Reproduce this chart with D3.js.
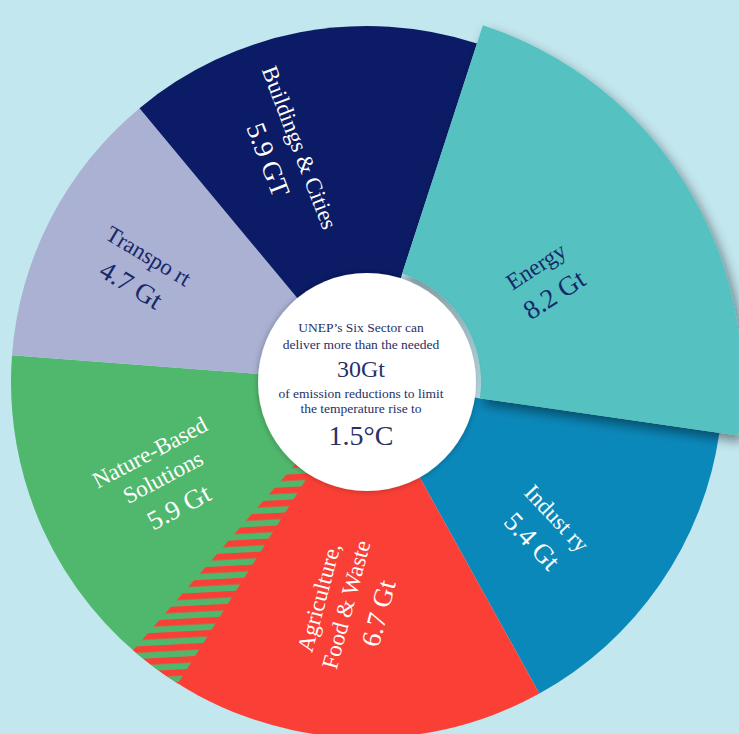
<!DOCTYPE html>
<html>
<head>
<meta charset="utf-8">
<script src="https://cdn.jsdelivr.net/npm/d3@7"></script>
<style>
  html, body { margin: 0; padding: 0; background: #c3e7ef; }
  svg { display: block; }
</style>
</head>
<body>
<svg id="chart" width="739" height="734"></svg>
<script>
    // sectors, clockwise from the exploded Energy wedge
    var sectors = ["Energy", "Industry", "Agriculture, Food & Waste", "Nature-Based Solutions", "Transport", "Buildings & Cities"];
    var reductions = [8.2, 5.4, 6.7, 5.9, 4.7, 5.9];
    var units = ["Gt", "Gt", "Gt", "Gt", "Gt", "GT"];
    var nameLines = [["Energy"], ["Indust ry"], ["Agriculture,", "Food & Waste"], ["Nature-Based", "Solutions"], ["Transpo rt"], ["Buildings & Cities"]];
    var centerLines = ["UNEP\u2019s Six Sector can", "deliver more than the needed", "30Gt", "of emission reductions to limit", "the temperature rise to", "1.5\u00b0C"];

    var colors = ["#55c1c0", "#0b88ba", "#fa4036", "#50b86c", "#aab1d3", "#0b1b65"];
    var textColors = ["#17286a", "#ffffff", "#ffffff", "#ffffff", "#17286a", "#ffffff"];
    // label placement: radius, angle nudge (deg), rotation (deg)
    var labelPos = [
        { r: 205, nudge: 2, rot: -33 },
        { r: 231, nudge: 5, rot: 47 },
        { r: 224, nudge: 1, rot: -75 },
        { r: 225, nudge: -1, rot: -28 },
        { r: 253, nudge: -1, rot: 31 },
        { r: 243, nudge: -9, rot: 69 }
    ];

    var svg = d3.select("#chart"),
        cx = 367,
        cy = 382,
        outer = 356,
        inner = 109;

    var rad = Math.PI / 180;
    var start = 18 * rad;

    var data = sectors.map(function (s, i) {
        return { name: s, value: reductions[i], i: i };
    });

    var pie = d3.pie()
        .sort(null)
        .value(function (d) { return d.value; })
        .startAngle(start)
        .endAngle(start + 2 * Math.PI);

    var arcs = pie(data);

    var arc = d3.arc().innerRadius(0).outerRadius(outer);
    var bigArc = d3.arc().innerRadius(114).outerRadius(375);

    var defs = svg.append("defs");

    var shadow = defs.append("filter")
        .attr("id", "shadow")
        .attr("x", "-20%").attr("y", "-20%")
        .attr("width", "140%").attr("height", "140%");
    shadow.append("feDropShadow")
        .attr("dx", 4).attr("dy", 6)
        .attr("stdDeviation", 6)
        .attr("flood-color", "#000")
        .attr("flood-opacity", 0.45);

    var soft = defs.append("filter")
        .attr("id", "soft")
        .attr("x", "-20%").attr("y", "-20%")
        .attr("width", "140%").attr("height", "140%");
    soft.append("feDropShadow")
        .attr("dx", 0).attr("dy", 0)
        .attr("stdDeviation", 3)
        .attr("flood-color", "#000")
        .attr("flood-opacity", 0.3);

    var stripes = defs.append("pattern")
        .attr("id", "stripes")
        .attr("patternUnits", "userSpaceOnUse")
        .attr("width", 40)
        .attr("height", 12.6)
        .attr("patternTransform", "rotate(-3)");
    stripes.append("rect").attr("width", 40).attr("height", 12.6).attr("fill", colors[3]);
    stripes.append("rect").attr("width", 40).attr("height", 6.4).attr("fill", colors[2]);

    var g = svg.append("g")
        .attr("transform", "translate(" + cx + "," + cy + ")");

    // regular slices
    g.selectAll(".slice")
        .data(arcs.filter(function (d) { return d.data.i !== 0; }))
        .enter()
        .append("path")
        .attr("class", "slice")
        .attr("d", arc)
        .attr("fill", function (d) { return colors[d.data.i]; });

    // hatched overlap between agriculture and nature-based solutions
    var seam = arcs[2].endAngle;
    g.append("path")
        .attr("d", arc({ startAngle: seam - 4.5 * rad, endAngle: seam + 4.5 * rad }))
        .attr("fill", "url(#stripes)");

    // exploded energy wedge
    g.append("path")
        .datum(arcs[0])
        .attr("d", bigArc)
        .attr("fill", colors[0])
        .attr("filter", "url(#shadow)");

    // white centre
    g.append("circle")
        .attr("r", inner)
        .attr("fill", "#ffffff")
        .attr("filter", "url(#soft)");

    // sector labels
    var labels = g.selectAll(".label")
        .data(arcs)
        .enter()
        .append("g")
        .attr("class", "label")
        .attr("transform", function (d) {
            var p = labelPos[d.data.i];
            var a = (d.startAngle + d.endAngle) / 2 + p.nudge * rad;
            return "translate(" + (p.r * Math.sin(a)) + "," + (-p.r * Math.cos(a)) + ") rotate(" + p.rot + ")";
        })
        .attr("fill", function (d) { return textColors[d.data.i]; })
        .attr("font-family", "'Liberation Serif', 'Times New Roman', serif")
        .attr("text-anchor", "middle");

    labels.each(function (d) {
        var el = d3.select(this);
        var lines = nameLines[d.data.i];
        var n = lines.length;
        var lh = 28, gap = 35;
        var total = (n - 1) * lh + gap;
        var y0 = -total / 2 + 9;
        lines.forEach(function (t, k) {
            el.append("text")
                .attr("y", y0 + k * lh)
                .attr("font-size", 23)
                .text(t);
        });
        el.append("text")
            .attr("y", y0 + (n - 1) * lh + gap)
            .attr("font-size", 27)
            .text(d3.format(".1f")(d.data.value) + " " + units[d.data.i]);
    });

    // centre message
    var centerY = [331.7, 349.3, 377, 397.7, 413, 445];
    var centerSize = [13.5, 13.5, 24, 13.5, 13.5, 28];
    svg.append("g")
        .attr("font-family", "'Liberation Serif', 'Times New Roman', serif")
        .attr("text-anchor", "middle")
        .attr("fill", "#283068")
        .selectAll("text")
        .data(centerLines)
        .enter()
        .append("text")
        .attr("x", 361)
        .attr("y", function (d, i) { return centerY[i]; })
        .attr("font-size", function (d, i) { return centerSize[i]; })
        .text(function (d) { return d; });
</script>
</body>
</html>
